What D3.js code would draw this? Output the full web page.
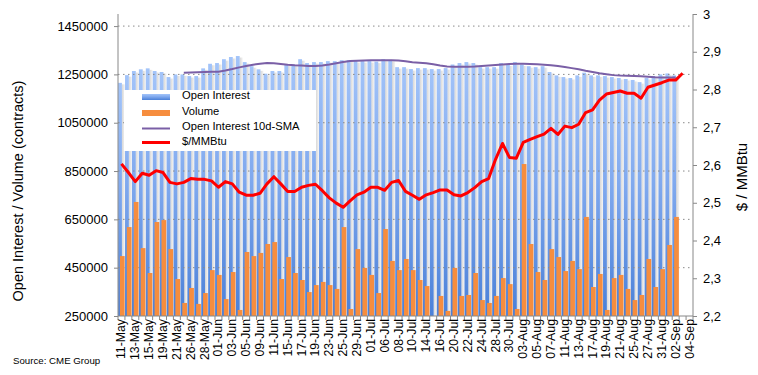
<!DOCTYPE html>
<html>
<head>
<meta charset="utf-8">
<script src="https://cdn.jsdelivr.net/npm/d3@7"></script>
<style>
  body { margin: 0; background: #fff; }
  svg { display: block; font-family: "Liberation Sans", Arial, sans-serif; }
</style>
</head>
<body>
<svg id="chart"></svg>
<script>
// ---- data ----
const dates = [
  "11-May","12-May","13-May","14-May","15-May","18-May","19-May","20-May","21-May","22-May",
  "26-May","27-May","28-May","29-May","01-Jun","02-Jun","03-Jun","04-Jun","05-Jun","08-Jun",
  "09-Jun","10-Jun","11-Jun","12-Jun","15-Jun","16-Jun","17-Jun","18-Jun","19-Jun","22-Jun",
  "23-Jun","24-Jun","25-Jun","26-Jun","29-Jun","30-Jun","01-Jul","02-Jul","06-Jul","07-Jul",
  "08-Jul","09-Jul","10-Jul","13-Jul","14-Jul","15-Jul","16-Jul","17-Jul","20-Jul","21-Jul",
  "22-Jul","23-Jul","24-Jul","27-Jul","28-Jul","29-Jul","30-Jul","31-Jul","03-Aug","04-Aug",
  "05-Aug","06-Aug","07-Aug","10-Aug","11-Aug","12-Aug","13-Aug","14-Aug","17-Aug","18-Aug",
  "19-Aug","20-Aug","21-Aug","24-Aug","25-Aug","26-Aug","27-Aug","28-Aug","31-Aug","01-Sep",
  "02-Sep","03-Sep","04-Sep"
];

const openInterest = [
  1215000,1247000,1264000,1271000,1275000,1264000,1260000,1239000,1250000,1250000,
  1243000,1243000,1275000,1294000,1297000,1313000,1322000,1326000,1301000,1284000,
  1271000,1253000,1264000,1264000,1291000,1291000,1313000,1297000,1301000,1301000,
  1305000,1305000,1309000,1309000,1305000,1305000,1305000,1303000,1313000,1310000,
  1280000,1280000,1272000,1276000,1276000,1272000,1272000,1276000,1291000,1297000,
  1301000,1297000,1280000,1280000,1280000,1297000,1291000,1301000,1291000,1284000,
  1280000,1284000,1260000,1246000,1239000,1235000,1246000,1257000,1246000,1246000,
  1243000,1239000,1235000,1231000,1227000,1218000,1235000,1243000,1250000,1254000,
  1246000
];

const volume = [
  498000,618000,722000,531000,428000,639000,647000,527000,403000,304000,
  366000,300000,345000,440000,420000,320000,432000,275000,515000,498000,
  511000,548000,556000,403000,494000,428000,399000,349000,378000,391000,
  378000,362000,618000,279000,527000,449000,420000,345000,610000,478000,
  440000,486000,440000,399000,374000,250000,333000,271000,449000,333000,
  337000,428000,316000,304000,333000,407000,382000,279000,879000,548000,
  432000,399000,527000,494000,436000,478000,444000,660000,370000,424000,
  275000,407000,420000,362000,316000,337000,486000,370000,444000,544000,
  660000
];

// 10-day SMA of open interest, first value on the 10th session
const smaStart = 9;
const oiSma = [
  1257000,1258000,1259000,1260000,1261000,1261000,1266000,1272000,1279000,1285000,
  1290000,1294000,1297000,1296000,1293000,1290000,1288000,1287000,1285000,1285000,
  1287000,1291000,1296000,1301000,1305000,1307000,1308000,1309000,1309000,1309000,
  1309000,1308000,1304000,1300000,1298000,1296000,1292000,1287000,1283000,1282000,
  1282000,1282000,1283000,1285000,1287000,1289000,1291000,1293000,1294000,1294000,
  1293000,1292000,1290000,1288000,1285000,1281000,1276000,1271000,1265000,1260000,
  1255000,1251000,1247000,1245000,1244000,1243000,1242000,1240000,1238000,1237000,
  1237000,1237000
];

const price = [
  2.603,2.580,2.556,2.578,2.573,2.585,2.580,2.554,2.550,2.554,
  2.564,2.562,2.562,2.558,2.541,2.556,2.550,2.528,2.520,2.520,
  2.525,2.550,2.569,2.550,2.530,2.530,2.541,2.546,2.549,2.532,
  2.513,2.499,2.488,2.505,2.521,2.528,2.541,2.541,2.533,2.554,
  2.559,2.530,2.520,2.509,2.521,2.527,2.534,2.534,2.521,2.518,
  2.527,2.540,2.556,2.564,2.615,2.657,2.620,2.618,2.660,2.668,
  2.675,2.682,2.697,2.681,2.703,2.699,2.708,2.739,2.746,2.772,
  2.788,2.792,2.796,2.790,2.790,2.777,2.806,2.812,2.818,2.825,
  2.825,2.843
];

const leftTicks = [250000,450000,650000,850000,1050000,1250000,1450000];
const rightTicks = [2.2,2.3,2.4,2.5,2.6,2.7,2.8,2.9,3.0];

const legendItems = ["Open Interest","Volume","Open Interest 10d-SMA","$/MMBtu"];

// ---- layout ----
const width = 758, height = 375;
const plotL = 118, plotR = 693, plotT = 14, plotB = 316;

const svg = d3.select("#chart")
  .attr("width", width)
  .attr("height", height);

const defs = svg.append("defs");
const oiGrad = defs.append("linearGradient").attr("id", "oiGrad")
  .attr("x1", 0).attr("y1", 0).attr("x2", 0).attr("y2", 1);
oiGrad.append("stop").attr("offset", "0%").attr("stop-color", "#a3c4f9");
oiGrad.append("stop").attr("offset", "45%").attr("stop-color", "#80a9ee");
oiGrad.append("stop").attr("offset", "100%").attr("stop-color", "#4a80d8");

const shGrad = defs.append("linearGradient").attr("id", "shGrad")
  .attr("x1", 0).attr("y1", 0).attr("x2", 1).attr("y2", 0);
shGrad.append("stop").attr("offset", "0%").attr("stop-color", "#d6d6d6");
shGrad.append("stop").attr("offset", "100%").attr("stop-color", "#f4f4f4");

const x = d3.scaleBand().domain(d3.range(dates.length)).range([plotL, plotR]);
const yL = d3.scaleLinear().domain([250000, 1500000]).range([plotB, plotT]);
const yR = d3.scaleLinear().domain([2.2, 3.0]).range([plotB, plotT]);
const bw = x.bandwidth();

// ---- bars ----
const gBars = svg.append("g");
gBars.selectAll("rect.sh")
  .data(openInterest)
  .join("rect")
    .attr("class", "sh")
    .attr("x", (d, i) => x(i) + bw * 0.55)
    .attr("y", d => yL(d) + 1.5)
    .attr("width", bw * 0.45)
    .attr("height", d => plotB - yL(d) - 1.5)
    .attr("fill", "url(#shGrad)");

gBars.selectAll("rect.oi")
  .data(openInterest)
  .join("rect")
    .attr("class", "oi")
    .attr("x", (d, i) => x(i) + 0.1)
    .attr("y", d => yL(d))
    .attr("width", bw * 0.55)
    .attr("height", d => plotB - yL(d))
    .attr("fill", "url(#oiGrad)");

// gridlines
svg.append("g")
  .selectAll("line")
  .data(leftTicks.slice(1))
  .join("line")
    .attr("x1", plotL).attr("x2", plotR)
    .attr("y1", d => yL(d)).attr("y2", d => yL(d))
    .attr("stroke", "#8a8a8a")
    .attr("stroke-width", 1)
    .attr("stroke-dasharray", "1.5,3.5");

svg.append("g")
  .selectAll("rect")
  .data(volume)
  .join("rect")
    .attr("x", (d, i) => x(i) + bw * 0.28)
    .attr("y", d => yL(d))
    .attr("width", bw * 0.68)
    .attr("height", d => Math.max(0, plotB - yL(d)))
    .attr("fill", "#f68d3e");

// ---- lines ----
const cx = i => x(i) + bw / 2;

svg.append("path")
  .datum(oiSma)
  .attr("fill", "none")
  .attr("stroke", "#7a5fa6")
  .attr("stroke-width", 2)
  .attr("d", d3.line().x((d, i) => cx(i + smaStart)).y(d => yL(d)));

svg.append("path")
  .datum(price)
  .attr("fill", "none")
  .attr("stroke", "#ff0000")
  .attr("stroke-width", 3)
  .attr("stroke-linejoin", "round")
  .attr("d", d3.line().x((d, i) => cx(i)).y(d => yR(d)));

// ---- axes ----
const axisColor = "#888";

const gL = svg.append("g")
  .attr("transform", `translate(${plotL},0)`)
  .call(d3.axisLeft(yL).tickValues(leftTicks).tickSize(4).tickPadding(6)
    .tickFormat(d3.format("d")));
gL.select(".domain").attr("stroke", axisColor).attr("d", `M0,${plotT}V${plotB}`);
gL.selectAll(".tick line").attr("stroke", axisColor);
gL.selectAll("text").attr("font-size", 13).attr("fill", "#000")
  .attr("font-family", "Liberation Sans, Arial, sans-serif");

const gR = svg.append("g")
  .attr("transform", `translate(${plotR},0)`)
  .call(d3.axisRight(yR).tickValues(rightTicks).tickSize(4).tickPadding(6)
    .tickFormat(d => d3.format(".2~f")(d).replace(".", ",")));
gR.select(".domain").attr("stroke", axisColor).attr("d", `M0,${plotT}V${plotB}`);
gR.selectAll(".tick line").attr("stroke", axisColor);
gR.selectAll("text").attr("font-size", 13).attr("fill", "#000")
  .attr("font-family", "Liberation Sans, Arial, sans-serif");

// x axis
const gX = svg.append("g");
gX.append("line")
  .attr("x1", plotL).attr("x2", plotR)
  .attr("y1", plotB).attr("y2", plotB)
  .attr("stroke", axisColor);
gX.selectAll("line.tk")
  .data(d3.range(dates.length + 1))
  .join("line")
    .attr("class", "tk")
    .attr("x1", i => plotL + i * bw).attr("x2", i => plotL + i * bw)
    .attr("y1", plotB).attr("y2", plotB + 4)
    .attr("stroke", axisColor);
gX.selectAll("text")
  .data(dates.map((d, i) => ({ d, i })).filter(o => o.i % 2 === 0))
  .join("text")
    .attr("transform", o => `translate(${cx(o.i) + 4},${plotB + 3}) rotate(-90)`)
    .attr("text-anchor", "end")
    .attr("font-size", 12.3)
    .text(o => o.d);

// axis titles
svg.append("text")
  .attr("transform", `translate(23,191) rotate(-90)`)
  .attr("text-anchor", "middle")
  .attr("font-size", 14.5)
  .text("Open Interest / Volume (contracts)");

svg.append("text")
  .attr("transform", `translate(747,177) rotate(-90)`)
  .attr("text-anchor", "middle")
  .attr("font-size", 15)
  .text("$ / MMBtu");

svg.append("text")
  .attr("x", 13).attr("y", 363.5)
  .attr("font-size", 9.7)
  .text("Source: CME Group");

// ---- legend ----
const lg = svg.append("g");
lg.append("rect")
  .attr("x", 124).attr("y", 90)
  .attr("width", 192).attr("height", 61)
  .attr("fill", "#fff");

const rowY = [97, 113, 128.5, 142.5];
const baseY = [100.5, 116, 131.5, 146];
lg.append("rect").attr("x", 142).attr("y", rowY[0] - 3).attr("width", 28).attr("height", 6)
  .attr("fill", "url(#oiGrad)");
lg.append("rect").attr("x", 142).attr("y", rowY[1] - 3).attr("width", 28).attr("height", 6)
  .attr("fill", "#f68d3e");
lg.append("line").attr("x1", 142).attr("x2", 170).attr("y1", rowY[2]).attr("y2", rowY[2])
  .attr("stroke", "#7a5fa6").attr("stroke-width", 2);
lg.append("line").attr("x1", 142).attr("x2", 170).attr("y1", rowY[3]).attr("y2", rowY[3])
  .attr("stroke", "#ff0000").attr("stroke-width", 3);

lg.selectAll("text")
  .data(legendItems)
  .join("text")
    .attr("x", 182)
    .attr("y", (d, i) => baseY[i] - 1.5)
    .attr("font-size", 11.2)
    .text(d => d);
</script>
</body>
</html>
